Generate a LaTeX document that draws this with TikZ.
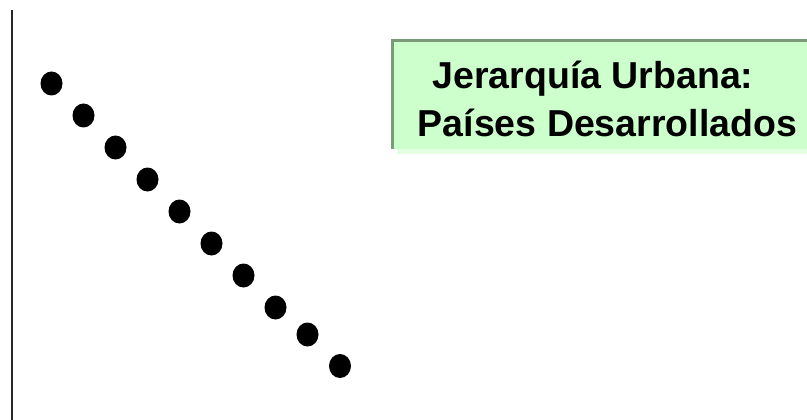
\documentclass[tikz,border=0pt]{standalone}
\usepackage{fontspec}
\setmainfont{Liberation Sans}
\usetikzlibrary{shapes.geometric}
\definecolor{boxfill}{HTML}{CCFFCC}
\definecolor{boxedge}{HTML}{7A9A7A}
\definecolor{boxshadow}{HTML}{E2FFE2}
\tikzset{
  dot/.style={ellipse, fill=black, inner sep=0pt, minimum width=22pt, minimum height=24pt},
  title/.style={anchor=base, inner sep=0pt, font=\fontsize{37.5pt}{45pt}\selectfont\bfseries}
}
\begin{document}
\begin{tikzpicture}[x=1pt,y=-1pt]
\useasboundingbox (0,0) rectangle (807,420);
\fill[white] (0,0) rectangle (807,420);
% vertical axis
\coordinate (axtop) at (12,10);
\coordinate (axbot) at (12,420);
\draw[line width=2.2pt, black!85] (axtop) -- (axbot);
% dots
\node[dot] (d1) at (51.5,83.5) {};
\node[dot] (d2) at (83.5,115.5) {};
\node[dot] (d3) at (115.5,147.5) {};
\node[dot] (d4) at (147.5,179.5) {};
\node[dot] (d5) at (179.5,211.5) {};
\node[dot] (d6) at (211.5,243.5) {};
\node[dot] (d7) at (243.5,275.5) {};
\node[dot] (d8) at (275.5,307.5) {};
\node[dot] (d9) at (307.5,334.5) {};
\node[dot] (d10) at (340,366) {};
% title box
\fill[boxshadow] (397,45) rectangle (807,154);
\fill[boxfill] (392,40) rectangle (807,149);
\draw[boxedge, line width=3pt] (392.5,149) -- (392.5,40.5) -- (807,40.5);
\node[title] (t1) at (593,89) {Jerarquía Urbana:};
\node[title] (t2) at (607.5,136) {Países Desarrollados};
\end{tikzpicture}
\end{document}
